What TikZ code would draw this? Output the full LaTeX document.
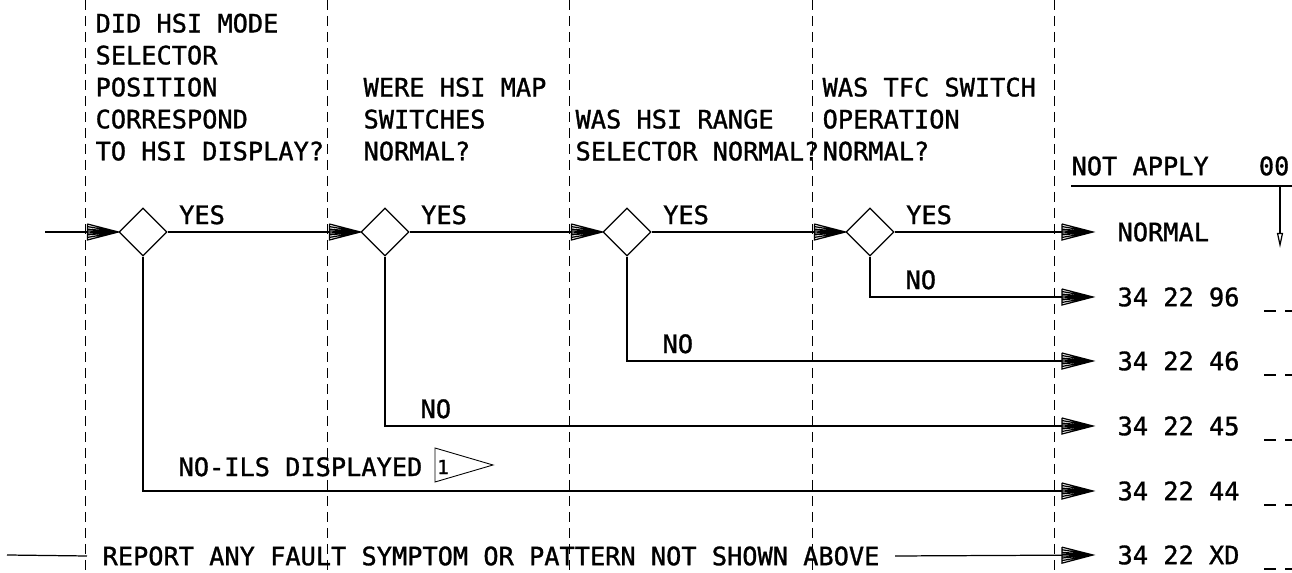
\documentclass[tikz,border=0pt]{standalone}
\usepackage{fontspec}
\newfontfamily\chartfont[FakeBold=1.2]{DejaVu Sans Mono}
\usetikzlibrary{positioning, arrows.meta, shapes.geometric, calc}

% fan-shaped head used on every branch line
\pgfdeclarearrow{
  name = Fan,
  parameters = {\the\pgfarrowlength,\the\pgfarrowwidth},
  setup code = {
    \pgfarrowssettipend{\pgfarrowlength}
    \pgfarrowssetlineend{0pt}
    \pgfarrowssetbackend{0pt}
    \pgfarrowssavethe\pgfarrowlength
    \pgfarrowssavethe\pgfarrowwidth
  },
  drawing code = {
    \pgfsetdash{}{0pt}
    \pgfsetmiterjoin
    \pgfpathmoveto{\pgfqpoint{0pt}{.5\pgfarrowwidth}}
    \pgfpathlineto{\pgfqpoint{0pt}{-.5\pgfarrowwidth}}
    \pgfpathlineto{\pgfqpoint{\pgfarrowlength}{0pt}}
    \pgfpathlineto{\pgfqpoint{0pt}{.5\pgfarrowwidth}}
    \pgfpathmoveto{\pgfqpoint{0pt}{.34\pgfarrowwidth}}
    \pgfpathlineto{\pgfqpoint{\pgfarrowlength}{0pt}}
    \pgfpathmoveto{\pgfqpoint{0pt}{.18\pgfarrowwidth}}
    \pgfpathlineto{\pgfqpoint{\pgfarrowlength}{0pt}}
    \pgfpathmoveto{\pgfqpoint{0pt}{.06\pgfarrowwidth}}
    \pgfpathlineto{\pgfqpoint{\pgfarrowlength}{0pt}}
    \pgfpathmoveto{\pgfqpoint{0pt}{-.06\pgfarrowwidth}}
    \pgfpathlineto{\pgfqpoint{\pgfarrowlength}{0pt}}
    \pgfpathmoveto{\pgfqpoint{0pt}{-.18\pgfarrowwidth}}
    \pgfpathlineto{\pgfqpoint{\pgfarrowlength}{0pt}}
    \pgfpathmoveto{\pgfqpoint{0pt}{-.34\pgfarrowwidth}}
    \pgfpathlineto{\pgfqpoint{\pgfarrowlength}{0pt}}
    \pgfusepathqstroke
  },
  defaults = {length = 0.62cm, width = 0.32cm}
}

\begin{document}
\begin{tikzpicture}[
  x=0.02cm, y=-0.02cm,
  font=\chartfont\fontsize{14.4}{18.2}\selectfont,
  line width=0.7pt,
  q/.style={draw, diamond, minimum width=0.96cm, minimum height=0.96cm, inner sep=0pt},
  head/.style={anchor=north west, align=left, inner sep=0pt},
  res/.style={anchor=west, inner xsep=0.48cm, inner ysep=0pt},
  lbl/.style={anchor=south west, inner sep=0pt},
  yes/.style={lbl, pos=0, xshift=0.22cm, yshift=0.14cm},
  no/.style={lbl, pos=.5, xshift=0.7cm, yshift=0.14cm},
  flow/.style={-{Fan}},
  divider/.style={line width=0.45pt, dash pattern=on 0.2cm off 0.12cm},
  blank/.style={dash pattern=on 0.24cm off 0.18cm}
]
\useasboundingbox (0,0) rectangle (1292,573);

% column dividers
\foreach \x in {85,327,569,812,1054}
  \draw[divider] (\x,0) -- (\x,573);

% questions
\node[head] (h1) at (95,13)  {DID HSI MODE\\SELECTOR\\POSITION\\CORRESPOND\\TO HSI DISPLAY?};
\node[head] (h2) at (363,77) {WERE HSI MAP\\SWITCHES\\NORMAL?};
\node[head] (h3) at (575,109) {WAS HSI RANGE\\SELECTOR NORMAL?};
\node[head] (h4) at (822,77) {WAS TFC SWITCH\\OPERATION\\NORMAL?};

% decisions
\node[q] (q1) at (143,232) {};
\node[q] (q2) at (385,232) {};
\node[q] (q3) at (627,232) {};
\node[q] (q4) at (870,232) {};

% results
\node[res] (r0) at (1093,232) {NORMAL};
\node[res] (r1) at (1093,297) {34 22 96};
\node[res] (r2) at (1093,361) {34 22 46};
\node[res] (r3) at (1093,426) {34 22 45};
\node[res] (r4) at (1093,491) {34 22 44};
\node[res] (r5) at (1093,555) {34 22 XD};
\foreach \y in {297,361,426,491,555}
  \draw[blank] (1264,\y+14) -- (1292,\y+14);

% not apply column
\node[anchor=west, inner sep=0pt] (na) at (1071,166) {NOT APPLY};
\node[anchor=east, inner sep=0pt] (nacode) at (1290,166) {00};
\coordinate (nal) at (1071,186);
\coordinate (nar) at (1292,186);
\coordinate (natop) at (1280,186);
\coordinate (natip) at (1280,248);
\draw (nal) -- (nar);
\draw[-{Triangle[open, length=0.3cm, width=0.12cm]}] (natop) -- (natip);

% yes chain
\coordinate (in) at (45,232);
\draw[flow] (in) -- (q1.west);
\draw[flow] (q1.east) -- node[yes] (y1) {YES} (q2.west);
\draw[flow] (q2.east) -- node[yes] (y2) {YES} (q3.west);
\draw[flow] (q3.east) -- node[yes] (y3) {YES} (q4.west);
\draw[flow] (q4.east) -- node[yes] (y4) {YES} (r0.west);

% no branches
\draw[flow] (q4.south) |- node[no] (n4) {NO} (r1.west);
\draw[flow] (q3.south) |- node[no] (n3) {NO} (r2.west);
\draw[flow] (q2.south) |- node[no] (n2) {NO} (r3.west);
\draw[flow] (q1.south) |- node[no, yshift=0.14cm] (n1) {NO-ILS DISPLAYED} (r4.west);

% note flag
\draw[line width=0.5pt] (435,448) -- (435,482) -- (493,465) -- cycle;
\node[inner sep=0pt, font=\chartfont\fontsize{11}{12}\selectfont] (note) at (443,467) {1};

% catch-all row
\coordinate (rin) at (7,555);
\node[anchor=west, inner xsep=0.3cm, inner ysep=0pt] (rep) at (87,556)
  {REPORT ANY FAULT SYMPTOM OR PATTERN NOT SHOWN ABOVE};
\draw (rin) -- (rep.west);
\draw[flow] (rep.east) -- (r5.west);
\end{tikzpicture}
\end{document}
